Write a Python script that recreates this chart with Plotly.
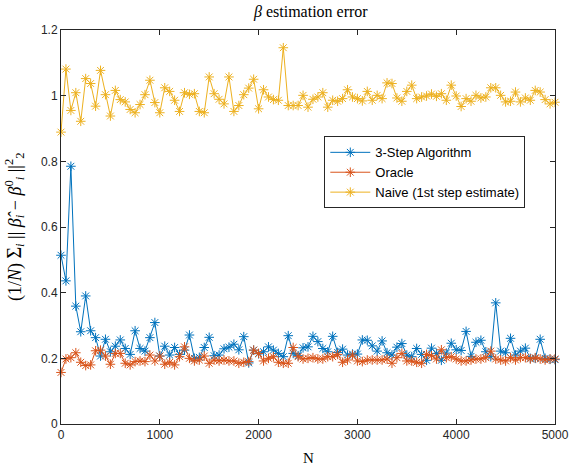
import plotly.graph_objects as go

N = list(range(0, 5001, 50))

three_step = [
    0.514, 0.436, 0.785, 0.359, 0.281, 0.390, 0.284, 0.263, 0.207, 0.258,
    0.220, 0.237, 0.256, 0.230, 0.212, 0.284, 0.230, 0.222, 0.263, 0.309,
    0.207, 0.237, 0.210, 0.233, 0.212, 0.225, 0.271, 0.200, 0.203, 0.233,
    0.264, 0.208, 0.210, 0.229, 0.234, 0.243, 0.226, 0.266, 0.186, 0.225,
    0.214, 0.220, 0.235, 0.225, 0.215, 0.205, 0.269, 0.215, 0.208, 0.232,
    0.235, 0.267, 0.251, 0.230, 0.220, 0.267, 0.218, 0.228, 0.210, 0.213,
    0.213, 0.256, 0.255, 0.238, 0.222, 0.253, 0.217, 0.210, 0.234, 0.245,
    0.210, 0.205, 0.230, 0.212, 0.194, 0.231, 0.215, 0.194, 0.216, 0.246,
    0.226, 0.224, 0.282, 0.206, 0.249, 0.255, 0.220, 0.205, 0.369, 0.222,
    0.217, 0.261, 0.210, 0.222, 0.231, 0.200, 0.200, 0.258, 0.200, 0.197,
    0.196,
]

oracle = [
    0.157, 0.198, 0.202, 0.217, 0.188, 0.178, 0.180, 0.223, 0.225, 0.207,
    0.182, 0.215, 0.215, 0.185, 0.180, 0.190, 0.192, 0.190, 0.210, 0.192,
    0.207, 0.182, 0.188, 0.180, 0.205, 0.235, 0.200, 0.192, 0.195, 0.207,
    0.185, 0.195, 0.192, 0.195, 0.192, 0.192, 0.185, 0.188, 0.190, 0.225,
    0.215, 0.192, 0.200, 0.205, 0.188, 0.185, 0.185, 0.233, 0.205, 0.198,
    0.200, 0.202, 0.198, 0.198, 0.205, 0.205, 0.212, 0.188, 0.195, 0.210,
    0.192, 0.190, 0.195, 0.195, 0.195, 0.195, 0.198, 0.185, 0.202, 0.215,
    0.192, 0.192, 0.188, 0.185, 0.212, 0.208, 0.198, 0.226, 0.202, 0.205,
    0.198, 0.192, 0.192, 0.195, 0.198, 0.198, 0.202, 0.222, 0.198, 0.195,
    0.192, 0.202, 0.195, 0.202, 0.202, 0.198, 0.202, 0.198, 0.195, 0.198,
    0.198,
]

naive = [
    0.889, 1.081, 0.955, 1.009, 0.922, 1.052, 1.037, 0.968, 1.077, 1.003,
    0.938, 1.016, 0.988, 0.981, 0.958, 0.948, 0.973, 1.003, 1.047, 0.979,
    0.948, 1.024, 1.013, 0.986, 0.952, 1.009, 1.004, 1.006, 0.952, 0.948,
    1.057, 1.006, 0.989, 0.975, 1.057, 0.952, 0.970, 1.003, 1.023, 1.050,
    0.960, 1.018, 0.996, 0.988, 0.986, 1.146, 0.970, 0.970, 0.970, 1.001,
    0.965, 0.989, 0.996, 1.009, 0.965, 0.986, 0.983, 0.991, 1.018, 0.996,
    0.991, 0.984, 1.013, 0.986, 1.001, 0.991, 1.039, 1.037, 0.993, 0.983,
    1.013, 1.032, 0.991, 0.996, 0.999, 1.005, 0.998, 1.006, 0.986, 1.032,
    0.999, 0.967, 0.991, 0.983, 1.001, 0.993, 0.996, 1.024, 1.024, 1.001,
    0.981, 0.983, 1.011, 0.981, 0.993, 0.986, 1.016, 1.011, 0.988, 0.975,
    0.980,
]

series_names = ["3-Step Algorithm", "Oracle", "Naive (1st step estimate)"]
series_colors = ["#0072BD", "#D95319", "#EDB120"]
x_ticks = [0, 1000, 2000, 3000, 4000, 5000]
y_ticks = [0, 0.2, 0.4, 0.6, 0.8, 1.0, 1.2]

fig = go.Figure()
for name, vals, col in zip(series_names, [three_step, oracle, naive], series_colors):
    fig.add_trace(go.Scatter(
        x=N, y=vals, name=name, mode="lines+markers",
        line=dict(color=col, width=1),
        marker=dict(symbol="asterisk-open", size=8, color=col,
                    line=dict(color=col, width=1)),
        cliponaxis=False,
    ))

axis_common = dict(
    showline=True, linecolor="#262626", linewidth=1, mirror="ticks",
    ticks="inside", ticklen=5, tickcolor="#262626", tickwidth=1,
    showgrid=False, zeroline=False,
    tickfont=dict(family="Liberation Sans, Arial, sans-serif", size=12, color="#262626"),
)

serif = "Liberation Serif, Times New Roman, serif"

fig.update_layout(
    width=581, height=468,
    margin=dict(l=61, r=20, t=30, b=44),
    paper_bgcolor="white", plot_bgcolor="white",
    title=dict(text="<i>β</i> estimation error", x=0.535, xanchor="center",
               y=0.975, yanchor="middle",
               font=dict(family=serif, size=16, color="black")),
    xaxis=dict(range=[0, 5000], tickvals=x_ticks, tickformat="d", **axis_common),
    yaxis=dict(range=[0, 1.2], tickvals=y_ticks, **axis_common),
    showlegend=True,
    legend=dict(x=0.533, y=0.730, xanchor="left", yanchor="top",
                bgcolor="white", bordercolor="#262626", borderwidth=1,
                font=dict(family="Liberation Sans, Arial, sans-serif", size=13, color="black"),
                tracegroupgap=0, itemwidth=40),
    annotations=[
        dict(text="N", xref="paper", yref="paper", x=0.5, y=-0.086,
             xanchor="center", yanchor="middle", showarrow=False,
             font=dict(family=serif, size=15, color="black")),
        dict(text="(1/<i>N</i>) <span style='font-size:20px'>Σ</span><sub><i>i</i></sub> || <i>β̂</i><sub><i>i</i></sub> − <i>β</i><sup>0</sup><sub><i>i</i></sub> ||<sup>2</sup><sub>2</sub>",
             xref="paper", yref="paper", x=-0.095, y=0.5, textangle=-90,
             xanchor="center", yanchor="middle", showarrow=False,
             font=dict(family=serif, size=18, color="black")),
    ],
)

fig.write_html("out.html")
